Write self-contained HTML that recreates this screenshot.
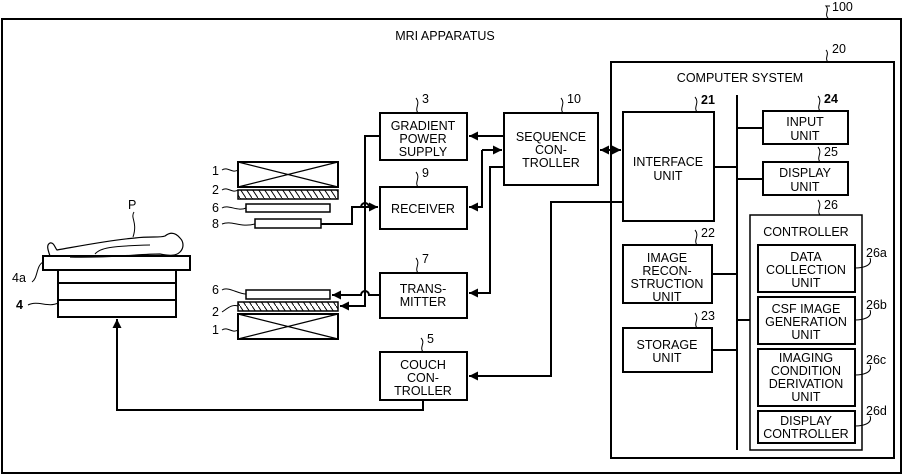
<!DOCTYPE html>
<html><head><meta charset="utf-8"><style>
body{margin:0;background:#fff}
svg{display:block}
text{font-family:"Liberation Sans",sans-serif;font-size:12.5px;fill:#000}
</style></head><body>
<svg width="903" height="475" viewBox="0 0 903 475" xmlns="http://www.w3.org/2000/svg">
<defs>
<marker id="a" viewBox="0 0 10 10" refX="10" refY="5" markerWidth="9" markerHeight="9" markerUnits="userSpaceOnUse" orient="auto"><path d="M0,0L10,5L0,10z"/></marker>
<pattern id="h" width="6" height="9" patternUnits="userSpaceOnUse"><path d="M0,0L6,9" stroke="#000" stroke-width="1"/></pattern>
</defs>
<g fill="none" stroke="#000" stroke-width="2">
<rect x="2" y="19" width="899" height="454"/>
<rect x="611" y="62" width="283" height="396"/>
<rect x="380" y="113" width="87" height="47"/>
<rect x="504" y="113" width="94" height="72"/>
<rect x="380" y="187" width="87" height="42"/>
<rect x="380" y="273" width="87" height="45"/>
<rect x="380" y="352" width="87" height="48"/>
<rect x="623" y="112" width="91" height="109"/>
<rect x="623" y="245" width="89" height="58"/>
<rect x="623" y="328" width="89" height="44"/>
<rect x="763" y="111" width="85" height="33"/>
<rect x="763" y="162" width="85" height="33"/>
<rect x="750" y="215" width="112" height="235" stroke-width="1.5"/>
<rect x="758" y="245" width="97" height="47"/>
<rect x="758" y="297" width="97" height="47"/>
<rect x="758" y="349" width="97" height="57"/>
<rect x="758" y="411" width="97" height="32"/>
<line x1="737" y1="95" x2="737" y2="450"/>
<path d="M714,167H737M737,128H763M737,179H763M712,274H737M712,350H737M737,320H750"/>
<rect x="238" y="162" width="100" height="25"/>
<path d="M238,162L338,187M238,187L338,162" stroke-width="1.2"/>
<rect x="238" y="190" width="100" height="9" fill="url(#h)" stroke-width="1.5"/>
<rect x="246" y="204" width="84" height="8" stroke-width="1.5"/>
<rect x="255" y="219" width="66" height="9" stroke-width="1.5"/>
<rect x="246" y="290" width="84" height="9" stroke-width="1.5"/>
<rect x="238" y="302" width="100" height="9" fill="url(#h)" stroke-width="1.5"/>
<rect x="238" y="314" width="100" height="25"/>
<path d="M238,314L338,339M238,339L338,314" stroke-width="1.2"/>
<rect x="43" y="256" width="147" height="14"/>
<rect x="58" y="270" width="118" height="47"/>
<path d="M58,283H176M58,300H176"/>
<path d="M50,256C48,250 46,245 50,243C54,242 55,248 57,250C80,246 110,240 135,238C150,236 160,238 165,236C170,232 175,232 180,238C184,242 184,248 180,252C176,256 170,256 160,254C140,254 110,258 70,257" stroke-width="1.2"/>
<path d="M95,254C100,248 110,246 150,245" stroke-width="1"/>
<path d="M423,400V410H117V319" marker-end="url(#a)"/>
<path d="M623,202H551V376H469" marker-end="url(#a)"/>
<path d="M504,136H469" marker-end="url(#a)"/>
<path d="M482,150V207H469" marker-end="url(#a)"/>
<path d="M482,150H502" marker-end="url(#a)"/>
<path d="M504,167H490V293H469" marker-end="url(#a)"/>
<path d="M612,150H600" marker-end="url(#a)"/>
<path d="M608,150H621" marker-end="url(#a)"/>
<path d="M380,136H365V306H340" marker-end="url(#a)"/>
<path d="M380,295H369A4,4 0 0 0 361,295H332" marker-end="url(#a)"/>
<path d="M321,224H352V207H369A4,4 0 0 0 361,207" />
<path d="M361,207H378" marker-end="url(#a)"/>
</g>
<g fill="none" stroke="#000" stroke-width="1">
<path d="M828,18C824,14 830,10 826,6H830"/>
<path d="M828,62C824,58 830,54 826,50"/>
<path d="M418,113C414,108 421,104 416,98"/>
<path d="M563,113C559,108 566,104 561,98"/>
<path d="M418,187C414,182 421,178 416,172"/>
<path d="M418,273C414,268 421,264 416,258"/>
<path d="M423,352C419,347 426,343 421,338"/>
<path d="M697,112C693,107 700,103 695,97"/>
<path d="M697,245C693,240 700,236 695,230"/>
<path d="M697,328C693,323 700,319 695,313"/>
<path d="M820,111C816,106 823,102 818,96"/>
<path d="M820,162C816,157 823,153 818,147"/>
<path d="M820,215C816,210 823,206 818,200"/>
<path d="M855,268C862,268 873,266 870,258"/>
<path d="M855,320C862,320 873,318 870,310"/>
<path d="M855,375C862,375 873,373 870,365"/>
<path d="M855,426C862,426 873,424 870,416"/>
<path d="M222,170C228,166 232,174 238,170"/>
<path d="M222,190C228,186 232,194 238,190"/>
<path d="M222,208C228,204 238,212 246,208"/>
<path d="M222,224C232,220 240,228 255,224"/>
<path d="M222,290C228,286 238,294 246,294"/>
<path d="M222,312C228,308 232,304 238,306"/>
<path d="M222,330C228,326 232,334 238,330"/>
<path d="M32,282C38,278 36,266 43,262"/>
<path d="M28,305C38,300 48,308 58,303"/>
<path d="M134,212C130,218 138,222 133,237"/>
</g>
<g>
<text x="832" y="11">100</text>
<text x="832" y="53">20</text>
<text x="445" y="40" text-anchor="middle">MRI APPARATUS</text>
<text x="740" y="82" text-anchor="middle">COMPUTER SYSTEM</text>
<text x="422" y="103">3</text>
<text x="567" y="103">10</text>
<text x="422" y="177">9</text>
<text x="422" y="263">7</text>
<text x="427" y="343">5</text>
<text x="701" y="104" font-weight="bold">21</text>
<text x="701" y="237">22</text>
<text x="701" y="320">23</text>
<text x="824" y="103" font-weight="bold">24</text>
<text x="824" y="156">25</text>
<text x="824" y="209">26</text>
<text x="866" y="257">26a</text>
<text x="866" y="309">26b</text>
<text x="866" y="364">26c</text>
<text x="866" y="415">26d</text>
<text x="128" y="209">P</text>
<text x="212" y="175">1</text>
<text x="212" y="194">2</text>
<text x="212" y="212">6</text>
<text x="212" y="228">8</text>
<text x="212" y="294">6</text>
<text x="212" y="316">2</text>
<text x="212" y="334">1</text>
<text x="12" y="282">4a</text>
<text x="16" y="309" font-weight="bold">4</text>
<g text-anchor="middle">
<text x="423" y="130">GRADIENT</text><text x="423" y="143">POWER</text><text x="423" y="156">SUPPLY</text>
<text x="551" y="141">SEQUENCE</text><text x="551" y="154">CON-</text><text x="551" y="167">TROLLER</text>
<text x="423" y="213">RECEIVER</text>
<text x="423" y="293">TRANS-</text><text x="423" y="306">MITTER</text>
<text x="423" y="369">COUCH</text><text x="423" y="382">CON-</text><text x="423" y="395">TROLLER</text>
<text x="668" y="166">INTERFACE</text><text x="668" y="180">UNIT</text>
<text x="667" y="262">IMAGE</text><text x="667" y="275">RECON-</text><text x="667" y="288">STRUCTION</text><text x="667" y="301">UNIT</text>
<text x="667" y="349">STORAGE</text><text x="667" y="362">UNIT</text>
<text x="805" y="126">INPUT</text><text x="805" y="140">UNIT</text>
<text x="805" y="177">DISPLAY</text><text x="805" y="191">UNIT</text>
<text x="806" y="236">CONTROLLER</text>
<text x="806" y="261">DATA</text><text x="806" y="274">COLLECTION</text><text x="806" y="287">UNIT</text>
<text x="806" y="313">CSF IMAGE</text><text x="806" y="326">GENERATION</text><text x="806" y="339">UNIT</text>
<text x="806" y="362">IMAGING</text><text x="806" y="375">CONDITION</text><text x="806" y="388">DERIVATION</text><text x="806" y="401">UNIT</text>
<text x="806" y="425">DISPLAY</text><text x="806" y="438">CONTROLLER</text>
</g>
</g>
</svg>
</body></html>
